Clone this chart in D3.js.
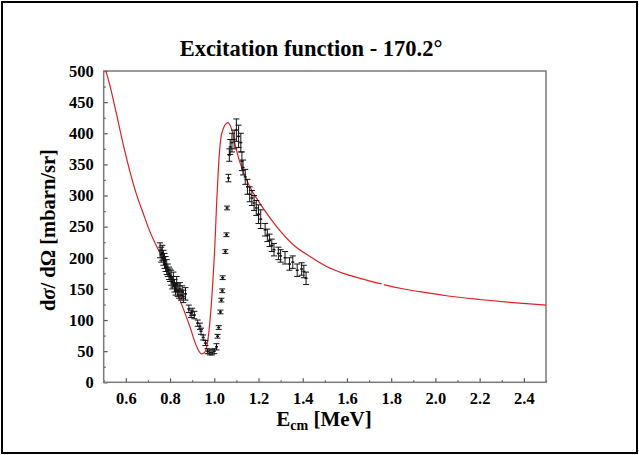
<!DOCTYPE html>
<html>
<head>
<meta charset="utf-8">
<script src="https://cdn.jsdelivr.net/npm/d3@7"></script>
<style>
  body { margin: 0; background: #fff; }
</style>
</head>
<body>
<div id="chart"></div>
<script>
// theory curve (red), split where the original has a tiny gap near 1.76 MeV
const fitE1 = [0.51, 0.528, 0.559, 0.589, 0.619, 0.649, 0.679, 0.709, 0.755, 0.80, 0.845, 0.89, 0.921, 0.943,
  0.958, 0.973, 0.988, 1.003, 1.011, 1.019, 1.034, 1.061, 1.08, 1.10, 1.131, 1.17, 1.207, 1.252, 1.282,
  1.357, 1.433, 1.508, 1.583, 1.659, 1.757];
const fitS1 = [500, 477, 429, 381, 338, 301, 271, 242, 207, 170, 132, 89, 57, 45.5,
  49, 73, 132, 223, 290, 346, 400, 417, 405, 373, 338, 308, 287, 264, 250,
  221, 202, 186, 175, 167, 158];
const fitE2 = [1.767, 1.84, 1.93, 2.05, 2.20, 2.35, 2.50];
const fitS2 = [157, 151, 145.5, 139, 133, 128, 124];

// measured points: energy, cross section, error
const expE = [0.755, 0.760, 0.765, 0.770, 0.775, 0.780, 0.785, 0.790, 0.795, 0.800, 0.805, 0.810, 0.815,
  0.820, 0.825, 0.830, 0.835, 0.840, 0.845, 0.850, 0.855, 0.860, 0.870,
  0.885, 0.895, 0.900, 0.910, 0.925, 0.935, 0.940, 0.950, 0.960, 0.970, 0.980, 0.990, 1.000, 1.010,
  1.015, 1.020, 1.028, 1.032, 1.036, 1.038, 1.050, 1.055, 1.058, 1.064, 1.068, 1.072, 1.080, 1.090,
  1.100, 1.110, 1.120, 1.125, 1.130, 1.140, 1.150, 1.160, 1.170, 1.180, 1.190, 1.200, 1.210, 1.230,
  1.240, 1.250, 1.260, 1.270, 1.290, 1.300, 1.320, 1.340, 1.355, 1.375, 1.395, 1.405, 1.415];
const expS = [212, 205, 208, 200, 195, 190, 185, 180, 175, 172, 168, 160, 165,
  155, 150, 158, 148, 145, 150, 140, 145, 138, 142,
  118, 110, 113, 108, 95, 90, 82, 72, 63, 50, 48, 48, 50, 57,
  74, 88, 113, 132, 147, 168, 210, 237, 280, 328, 365, 378, 385, 390,
  405, 395, 385, 355, 345, 330, 314, 302, 296, 288, 280, 270, 262, 245,
  236, 228, 220, 213, 207, 203, 200, 190, 193, 180, 182, 178, 167];
const expErr = [12, 12, 12, 12, 12, 12, 12, 10, 10, 10, 12, 10, 12,
  10, 10, 12, 10, 10, 10, 8, 10, 10, 10,
  6, 6, 6, 6, 5, 5, 5, 4, 4, 4, 4, 4, 4, 5,
  3, 3, 3, 3, 3, 3, 3, 3, 3, 6, 10, 12, 15, 15,
  18, 18, 15, 15, 12, 12, 12, 12, 12, 12, 12, 15, 15, 10,
  10, 10, 10, 10, 10, 10, 10, 10, 10, 10, 10, 10, 10];

const xMajor = [0.6, 0.8, 1.0, 1.2, 1.4, 1.6, 1.8, 2.0, 2.2, 2.4];
const xMinor = [0.5, 0.7, 0.9, 1.1, 1.3, 1.5, 1.7, 1.9, 2.1, 2.3, 2.5];
const yMajor = [0, 50, 100, 150, 200, 250, 300, 350, 400, 450, 500];
const yMinor = [25, 75, 125, 175, 225, 275, 325, 375, 425, 475];

const FONT = "'Liberation Serif', Tinos, 'Times New Roman', Times, serif";

const W = 639;
const H = 455;
const margin = { top: 71, right: 93, bottom: 72.7, left: 103.7 };
const width = W - margin.left - margin.right;
const height = H - margin.top - margin.bottom;

const svg = d3.select('#chart').append('svg')
  .attr('width', W)
  .attr('height', H)
  .attr('font-family', FONT)
  .attr('font-weight', 'bold');

// outer frame of the picture
svg.append('rect')
  .attr('x', 2).attr('y', 2)
  .attr('width', W - 4).attr('height', H - 4)
  .attr('fill', 'none')
  .attr('stroke', '#000')
  .attr('stroke-width', 2);

svg.append('text')
  .attr('x', 311).attr('y', 56)
  .attr('text-anchor', 'middle')
  .attr('font-family', FONT)
  .attr('font-size', 22.5)
  .text('Excitation function - 170.2°');

const g = svg.append('g')
  .attr('transform', `translate(${margin.left},${margin.top})`);

const x = d3.scaleLinear().domain([0.5, 2.5]).range([0, width]);
const y = d3.scaleLinear().domain([0, 500]).range([height, 0]);

// axes: ticks point inward, labels in bold serif
const xAxis = g.append('g')
  .attr('transform', `translate(0,${height})`)
  .call(d3.axisBottom(x).tickValues(xMajor).tickSize(-4).tickPadding(10).tickFormat(d3.format('.1f')));
g.append('g')
  .attr('transform', `translate(0,${height})`)
  .call(d3.axisBottom(x).tickValues(xMinor).tickSize(-2).tickFormat(''));
const yAxis = g.append('g')
  .call(d3.axisLeft(y).tickValues(yMajor).tickSize(-4).tickPadding(10));
g.append('g')
  .call(d3.axisLeft(y).tickValues(yMinor).tickSize(-2).tickFormat(''));

g.selectAll('.domain').remove();
g.selectAll('.tick line').attr('stroke', '#555').attr('stroke-width', 1.2);
[xAxis, yAxis].forEach((a) => a
  .attr('font-family', FONT)
  .attr('font-size', 16.5)
  .attr('font-weight', 'bold'));

g.append('rect')
  .attr('width', width).attr('height', height)
  .attr('fill', 'none')
  .attr('stroke', '#7a7a7a')
  .attr('stroke-width', 1.5);

// theory curve
const line = d3.line()
  .x((d) => x(d[0]))
  .y((d) => y(d[1]))
  .curve(d3.curveMonotoneX);

[[fitE1, fitS1], [fitE2, fitS2]].forEach(([es, ss]) => {
  g.append('path')
    .datum(es.map((e, i) => [e, ss[i]]))
    .attr('fill', 'none')
    .attr('stroke', '#e02020')
    .attr('stroke-width', 1.2)
    .attr('d', line);
});

// data with error bars
const pts = expE.map((e, i) => ({ e, s: expS[i], err: expErr[i] }));
const bars = g.append('g').selectAll('g').data(pts).join('g')
  .attr('stroke', '#111')
  .attr('stroke-width', 1);

bars.append('line')
  .attr('x1', (d) => x(d.e)).attr('x2', (d) => x(d.e))
  .attr('y1', (d) => y(d.s - d.err)).attr('y2', (d) => y(d.s + d.err));
bars.append('line')
  .attr('x1', (d) => x(d.e) - 3).attr('x2', (d) => x(d.e) + 3)
  .attr('y1', (d) => y(d.s + d.err)).attr('y2', (d) => y(d.s + d.err));
bars.append('line')
  .attr('x1', (d) => x(d.e) - 3).attr('x2', (d) => x(d.e) + 3)
  .attr('y1', (d) => y(d.s - d.err)).attr('y2', (d) => y(d.s - d.err));
bars.append('line')
  .attr('x1', (d) => x(d.e) - 1.5).attr('x2', (d) => x(d.e) + 1.5)
  .attr('y1', (d) => y(d.s)).attr('y2', (d) => y(d.s))
  .attr('stroke-width', 1.5);

// axis titles
const xt = svg.append('text')
  .attr('x', 324).attr('y', 426)
  .attr('text-anchor', 'middle')
  .attr('font-size', 21);
xt.append('tspan').text('E');
xt.append('tspan').attr('dy', 4).attr('font-size', 14).text('cm');
xt.append('tspan').attr('dy', -4).text('\u00a0[MeV]');

const yt = svg.append('text')
  .attr('transform', 'translate(55,230) rotate(-90)')
  .attr('text-anchor', 'middle')
  .attr('font-size', 20.5);
yt.append('tspan').text('d');
yt.append('tspan').attr('font-style', 'italic').text('σ');
yt.append('tspan').text('/ dΩ [mbarn/sr]');
</script>
</body>
</html>
